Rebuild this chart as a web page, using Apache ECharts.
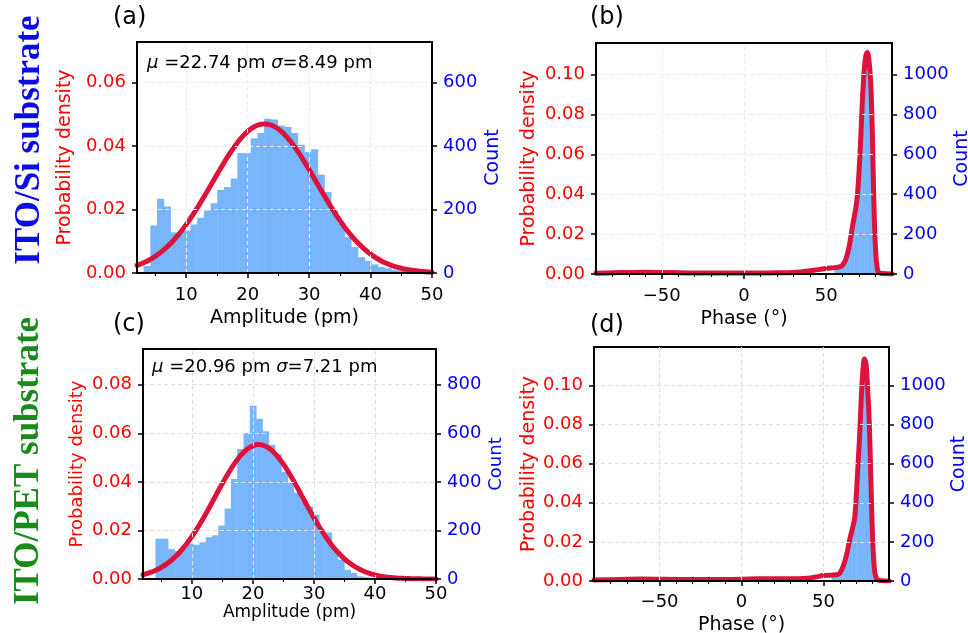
<!DOCTYPE html>
<html><head><meta charset="utf-8">
<script src="https://cdn.jsdelivr.net/npm/echarts@6/dist/echarts.min.js"></script>
<style>html,body{margin:0;padding:0;background:#fff}#c{width:968px;height:633px}</style>
</head><body><div id="c"></div>
<script>
// ---------------- DATA ----------------
// Amplitude histograms (counts per bin), bin start and bin width in pm
const ampCountsA = [22,150,234,210,128,130,134,153,174,197,220,262,271,298,378,378,425,441,486,484,465,460,441,404,381,390,310,255,197,155,113,82,50,38,27,19,15,10,7,4];
const ampBinStartA = 3.08, ampBinWidthA = 1.089;
const ampCountsC = [166,166,123,115,137,144,141,151,172,180,220,290,412,535,601,713,660,608,553,514,440,395,355,325,299,265,192,192,121,80,38,25,11,7,4,2,1,1,0,1];
const ampBinStartC = 4.03, ampBinWidthC = 1.031;
// Gaussian fit curves (probability density)
const fitXA = [2,3,4,5,6,7,8,9,10,11,12,13,14,15,16,17,18,19,20,21,22,22.74,23,24,25,26,27,28,29,30,31,32,33,34,35,36,37,38,39,40,41,42,43,44,45,46,47,48,49,50];
const fitYA = [0.00238,0.00315,0.00411,0.00530,0.00673,0.00843,0.01041,0.01268,0.01525,0.01806,0.02111,0.02434,0.02766,0.03101,0.03429,0.03739,0.04021,0.04264,0.04461,0.04601,0.04681,0.04699,0.04697,0.04648,0.04535,0.04365,0.04143,0.03879,0.03581,0.03260,0.02927,0.02593,0.02264,0.01950,0.01656,0.01388,0.01147,0.00934,0.00751,0.00595,0.00465,0.00358,0.00273,0.00204,0.00151,0.00110,0.00079,0.00056,0.00039,0.00027];
const fitXC = [2,3,4,5,6,7,8,9,10,11,12,13,14,15,16,17,18,19,20,20.96,22,23,24,25,26,27,28,29,30,31,32,33,34,35,36,37,38,39,40,41,42,43,44,45,46,47,48,49,50];
const fitYC = [0.00174,0.00249,0.00348,0.00477,0.00643,0.00849,0.01100,0.01398,0.01742,0.02131,0.02556,0.03008,0.03473,0.03932,0.04367,0.04758,0.05086,0.05333,0.05484,0.05533,0.05476,0.05316,0.05063,0.04729,0.04334,0.03896,0.03435,0.02971,0.02521,0.02099,0.01713,0.01372,0.01078,0.00831,0.00628,0.00466,0.00339,0.00242,0.00169,0.00116,0.00078,0.00052,0.00034,0.00021,0.00013,0.00008,0.00005,0.00003,0.00002];
// Phase histograms (1 degree bins)
const phaseBinStart = 55, phaseBinWidth = 1;
const phaseCountsB = [28,30,32,38,63,63,70,75,105,140,190,240,285,330,400,520,680,870,1000,1070,1060,960,740,400,130,25,5];
const phaseCountsD = [25,27,30,32,35,40,60,80,110,140,180,210,250,280,320,420,560,720,900,1060,1120,1020,820,550,250,80,15];
// Phase density curves
const kdeX = [-90,-80,-70,-60,-50,-40,-30,-20,-10,0,10,20,30,40,45,50,55,58,60,62,64,66,68,69,70,71,72,73,74,75,76,77,78,79,80,81,82,84,90];
const kdeYB = [0.0004,0.0006,0.0008,0.0009,0.0008,0.0006,0.0005,0.0005,0.0005,0.0005,0.0005,0.0006,0.0008,0.0016,0.0022,0.0028,0.0032,0.0036,0.0045,0.0075,0.014,0.024,0.033,0.040,0.052,0.068,0.087,0.101,0.109,0.111,0.107,0.097,0.072,0.035,0.012,0.003,0.0008,0.0002,0];
const kdeYD = [0.0005,0.0007,0.0009,0.0010,0.0009,0.0008,0.0008,0.0008,0.0008,0.0009,0.0011,0.0012,0.0011,0.0014,0.0020,0.0028,0.0030,0.0032,0.0040,0.0075,0.013,0.021,0.028,0.032,0.043,0.058,0.073,0.092,0.107,0.1135,0.111,0.098,0.080,0.050,0.022,0.007,0.002,0.0003,0];
// Tick labels
const ampTicks = [10,20,30,40,50];
const ampMinorTicks = [5,15,25,35,45];
const ampGrid = [10,20,30,40];
const phaseTicks = [-50,0,50];
const phaseMinorTicks = [-80,-70,-60,-40,-30,-20,-10,10,20,30,40,60,70,80];
const densTicksA = [0,0.02,0.04,0.06];
const densTicksC = [0,0.02,0.04,0.06,0.08];
const densTicksBD = [0,0.02,0.04,0.06,0.08,0.10];
const countTicksA = [0,200,400,600];
const countTicksC = [0,200,400,600,800];
const countTicksBD = [0,200,400,600,800,1000];
const statsA = ['22.74','8.49'];
const statsC = ['20.96','7.21'];

// ---------------- CHART ----------------
const FONT = 'DejaVu Sans';
const BAR = '#79b5fb';
const CURVE = '#dc143c';
const chart = echarts.init(document.getElementById('c'), null, {renderer:'canvas'});
const grids = [], xMajor = [], xMinor = [], yAxes = [], series = [];

function fmtDens(v){ return Number(v).toFixed(2); }
function fmtPhase(v){ return v < 0 ? '\u2212' + Math.abs(v) : String(v); }
function fmtInt(v){ return String(Math.round(v)); }
function histData(counts, start, w){
  return counts.map((c, i) => [start + i * w, start + (i + 1) * w, c]);
}
function zip(xs, ys){ return xs.map((x, i) => [x, ys[i]]); }
function histRender(params, api){
  const a = api.coord([api.value(0), 0]);
  const b = api.coord([api.value(1), api.value(2)]);
  return {type:'rect', shape:{x:a[0], y:b[1], width:b[0]-a[0]+0.5, height:a[1]-b[1]},
          style:{fill:BAR}};
}

function addPanel(p){
  const g = grids.length;
  grids.push({left:p.box[0], top:p.box[1], width:p.box[2], height:p.box[3], show:true,
    outerBoundsMode:'none', containLabel:false,
    borderColor:'#000', borderWidth:2, backgroundColor:'transparent'});
  xMajor.push({gridIndex:g, type:'value', position:'bottom', min:p.xMin, max:p.xMax, z:10,
    name:p.xName, nameLocation:'middle', nameGap:p.xNameGap,
    nameTextStyle:{color:'#000', fontFamily:FONT, fontSize:p.xNameSize || p.nameSize},
    axisLine:{show:true, onZero:false, lineStyle:{color:'#000', width:2}},
    axisTick:{show:true, customValues:p.xTicks, length:5, lineStyle:{color:'#000', width:1.5}},
    axisLabel:{show:true, customValues:p.xTicks, formatter:p.xFmt, color:'#000', fontFamily:FONT,
      fontSize:p.tickSize, margin:p.xLabelMargin, showMinLabel:true, showMaxLabel:true},
    splitLine:{show:false}});
  xMinor.push({gridIndex:g, type:'value', position:'bottom', offset:0, min:p.xMin, max:p.xMax, z:10,
    axisLine:{show:false},
    axisTick:{show:true, customValues:p.xMinor, length:3, lineStyle:{color:'#000', width:1}},
    axisLabel:{show:false}, splitLine:{show:false}});
  yAxes.push({gridIndex:g, type:'value', position:'left', min:0, max:p.dMax, interval:0.02, z:10,
    name:'Probability density', nameLocation:'middle', nameRotate:90, nameGap:p.dNameGap,
    nameTextStyle:{color:'red', fontFamily:FONT, fontSize:p.nameSize},
    axisLine:{show:true, onZero:false, lineStyle:{color:'#000', width:2}},
    axisTick:{show:true, customValues:p.dTicks, length:5, lineStyle:{color:'#000', width:1.5}},
    axisLabel:{show:true, customValues:p.dTicks, formatter:fmtDens, color:'red', fontFamily:FONT,
      fontSize:p.tickSize, margin:11},
    splitLine:{show:true, lineStyle:{color:p.gridColor, width:1, type:[4,3]}}});
  yAxes.push({gridIndex:g, type:'value', position:'right', min:0, max:p.cMax, z:10,
    name:'Count', nameLocation:'middle', nameRotate:90, nameGap:p.cNameGap,
    nameTextStyle:{color:'blue', fontFamily:FONT, fontSize:p.nameSize},
    axisLine:{show:true, onZero:false, lineStyle:{color:'#000', width:2}},
    axisTick:{show:true, customValues:p.cTicks, length:5, lineStyle:{color:'#000', width:1.5}},
    axisLabel:{show:true, customValues:p.cTicks, formatter:fmtInt, color:'blue', fontFamily:FONT,
      fontSize:p.tickSize, margin:11},
    splitLine:{show:false}});
  series.push({type:'line', xAxisIndex:g, yAxisIndex:2*g, z:1, silent:true,
    data:[[p.xMin, 0]], showSymbol:false, symbol:'none', lineStyle:{opacity:0},
    markLine:{silent:true, symbol:['none','none'], label:{show:false}, animation:false,
      lineStyle:{color:p.gridColor, width:1, type:[4,3]},
      emphasis:{disabled:true},
      data:p.xGrid.map(v => ({xAxis:v}))}});
  series.push({type:'custom', xAxisIndex:g, yAxisIndex:2*g+1, z:2, silent:true, clip:true,
    renderItem:histRender, encode:{x:[0,1], y:2}, data:p.hist});
  series.push({type:'line', xAxisIndex:g, yAxisIndex:2*g, z:3, silent:true, clip:true,
    data:p.curve, smooth:p.smooth, symbol:'none', showSymbol:false,
    lineStyle:{color:CURVE, width:5, cap:'round', join:'round'}});
}

addPanel({box:[137,42,295,231], xMin:2, xMax:50, xTicks:ampTicks, xMinor:ampMinorTicks, xGrid:ampGrid,
  xFmt:v=>String(v), xName:'Amplitude (pm)', xNameGap:36, xLabelMargin:13,
  dMax:0.0728, dTicks:densTicksA, cMax:728, cTicks:countTicksA,
  dNameGap:62, cNameGap:52, nameSize:19, tickSize:18, gridColor:'#ebebeb',
  hist:histData(ampCountsA, ampBinStartA, ampBinWidthA), curve:zip(fitXA, fitYA), smooth:0.3});
addPanel({box:[596,43,296,231], xMin:-90, xMax:90, xTicks:phaseTicks, xMinor:phaseMinorTicks, xGrid:phaseTicks,
  xFmt:fmtPhase, xName:'Phase (\u00b0)', xNameGap:36, xLabelMargin:13,
  dMax:0.1158, dTicks:densTicksBD, cMax:1158, cTicks:countTicksBD,
  dNameGap:57, cNameGap:55, nameSize:19, tickSize:18, gridColor:'#ebebeb',
  hist:histData(phaseCountsB, phaseBinStart, phaseBinWidth), curve:zip(kdeX, kdeYB), smooth:0.35});
addPanel({box:[143,349,293,230], xMin:2, xMax:50, xTicks:ampTicks, xMinor:ampMinorTicks, xGrid:ampGrid,
  xFmt:v=>String(v), xName:'Amplitude (pm)', xNameGap:18, xNameSize:17, xLabelMargin:6,
  dMax:0.0947, dTicks:densTicksC, cMax:947, cTicks:countTicksC,
  dNameGap:57, cNameGap:51, nameSize:18, tickSize:18, gridColor:'#dedede',
  hist:histData(ampCountsC, ampBinStartC, ampBinWidthC), curve:zip(fitXC, fitYC), smooth:0.3});
addPanel({box:[594,347,295,234], xMin:-90, xMax:90, xTicks:phaseTicks, xMinor:phaseMinorTicks, xGrid:phaseTicks,
  xFmt:fmtPhase, xName:'Phase (\u00b0)', xNameGap:35, xLabelMargin:12,
  dMax:0.1197, dTicks:densTicksBD, cMax:1197, cTicks:countTicksBD,
  dNameGap:55, cNameGap:55, nameSize:19, tickSize:18, gridColor:'#dedede',
  hist:histData(phaseCountsD, phaseBinStart, phaseBinWidth), curve:zip(kdeX, kdeYD), smooth:0.35});

function statText(x, y, s){
  return {type:'text', x:x, y:y, z:20, silent:true, style:{
    text:'{i|\u03bc} =' + s[0] + ' pm {i|\u03c3}=' + s[1] + ' pm',
    fill:'#000', fontSize:18, fontFamily:FONT, align:'left', verticalAlign:'middle',
    rich:{i:{fontStyle:'italic', fontSize:18, fontFamily:FONT, fill:'#000'}}}};
}
function panelLabel(x, y, t){
  return {type:'text', x:x, y:y, z:20, silent:true, style:{text:t, fill:'#000', fontSize:24,
    fontFamily:FONT, align:'left', verticalAlign:'middle'}};
}
function sideLabel(x, y, t, color){
  return {type:'text', x:x, y:y, rotation:Math.PI/2, z:20, silent:true, style:{text:t, fill:color,
    fontSize:35, fontWeight:'bold', fontFamily:'Liberation Serif', align:'center', verticalAlign:'middle'}};
}

chart.setOption({
  animation:false,
  backgroundColor:'#fff',
  grid:grids,
  xAxis:xMajor.concat(xMinor),
  yAxis:yAxes,
  series:series,
  graphic:[
    sideLabel(30, 140, 'ITO/Si substrate', '#0b0be6'),
    sideLabel(29, 461, 'ITO/PET substrate', '#1a8a1a'),
    panelLabel(113, 18, '(a)'), panelLabel(590, 18, '(b)'),
    panelLabel(113, 325, '(c)'), panelLabel(590, 326, '(d)'),
    statText(147, 63, statsA), statText(152, 367, statsC)
  ]
});
</script></body></html>
